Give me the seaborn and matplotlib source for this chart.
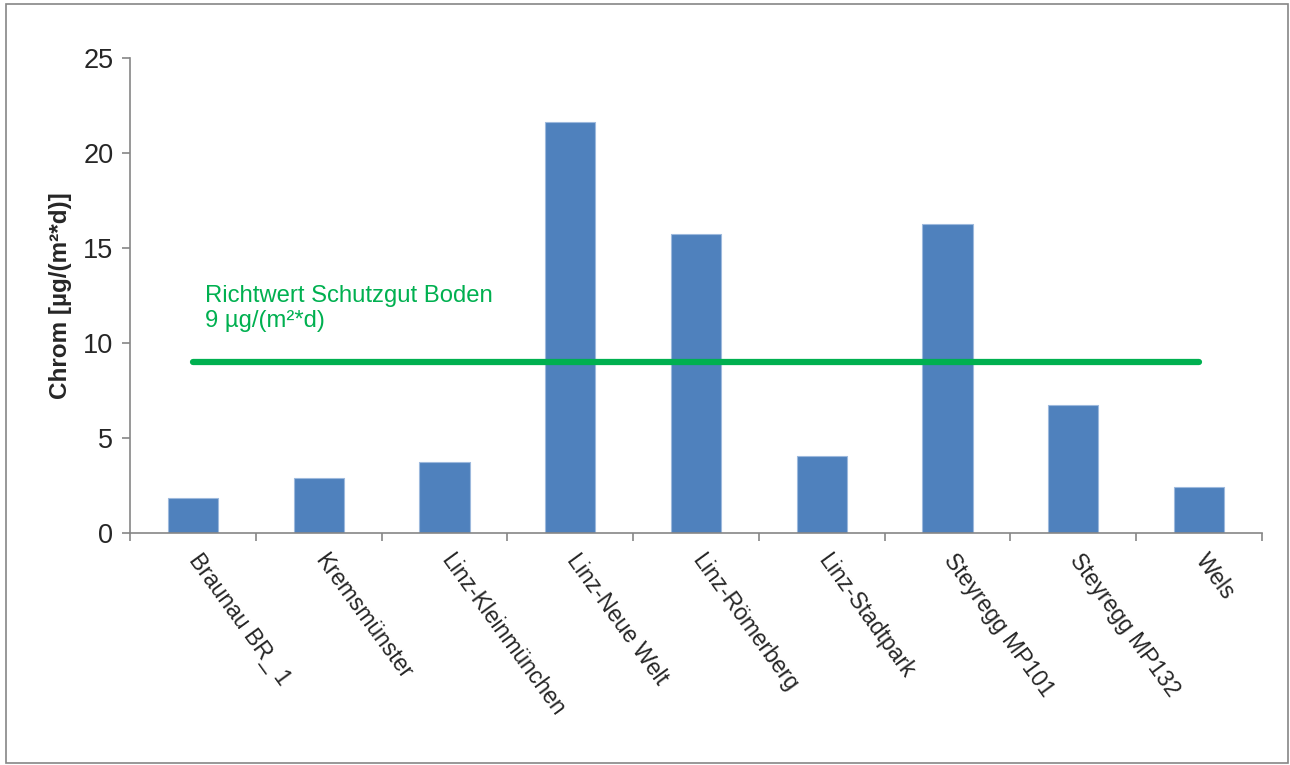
import matplotlib
matplotlib.use("Agg")
import numpy as np
import pandas as pd
import matplotlib.pyplot as plt
import seaborn as sns
from matplotlib.patches import Rectangle
from matplotlib.transforms import ScaledTranslation

# data
stations = ["Braunau BR_ 1", "Kremsmünster", "Linz-Kleinmünchen", "Linz-Neue Welt",
            "Linz-Römerberg", "Linz-Stadtpark", "Steyregg MP101", "Steyregg MP132", "Wels"]
chrom = [1.85, 2.9, 3.72, 21.62, 15.73, 4.03, 16.24, 6.72, 2.43]
richtwert = 9
richtwert_label = "Richtwert Schutzgut Boden\n9 µg/(m²*d)"
y_ticks = [0, 5, 10, 15, 20, 25]

sns.set_style("white")
plt.rcParams["font.family"] = ["Liberation Sans", "DejaVu Sans"]

df = pd.DataFrame({"station": stations, "chrom": chrom})

fig = plt.figure(figsize=(12.9, 7.65), dpi=100)
ax = fig.add_axes([0.1008, 0.3033, 0.8775, 0.6209])

sns.barplot(data=df, x="station", y="chrom", color="#4F81BD", width=0.4,
            saturation=1, edgecolor="#9DB9DD", linewidth=0.8, ax=ax)

# guideline value across all stations
ax.plot([0, len(stations) - 1], [richtwert, richtwert], color="#00B050",
        linewidth=4.5, solid_capstyle="round", zorder=3)
ax.text(0.095, 13.05, richtwert_label, color="#00B050", fontsize=17.2,
        ha="left", va="top", linespacing=1.2)

ax.set_xlim(-0.5, len(stations) - 0.5)
ax.set_ylim(0, 25)
ax.set_yticks(y_ticks)
ax.set_yticklabels([str(t) for t in y_ticks], fontsize=19.5)
ax.set_xticks(range(len(stations)))
ax.set_xticklabels(stations, rotation=-54, ha="left", rotation_mode="anchor", fontsize=16.5)
ax.set_xticks(np.arange(-0.5, len(stations)), minor=True)
ax.tick_params(axis="x", which="major", bottom=False, length=0, pad=12)
ax.tick_params(axis="x", which="minor", bottom=True, length=6, width=1.2, color="#868686", direction="out")
ax.tick_params(axis="y", left=True, length=6, width=1.2, color="#868686", direction="out", pad=6)
shift = ScaledTranslation(10 / 100, 0, fig.dpi_scale_trans)
for lab in ax.get_xticklabels():
    lab.set_transform(lab.get_transform() + shift)
ax.set_xlabel("")
ax.set_ylabel("Chrom [µg/(m²*d)]", fontsize=17.5, fontweight="bold", labelpad=8)

for side in ["top", "right"]:
    ax.spines[side].set_visible(False)
for side in ["left", "bottom"]:
    ax.spines[side].set_color("#868686")
    ax.spines[side].set_linewidth(1.2)

# outer chart frame
fig.patches.append(Rectangle((6 / 1290, 0.002), 1282 / 1290, 1 - 6 / 765, transform=fig.transFigure,
                             fill=False, edgecolor="#868686", linewidth=1.2))

fig.savefig("out.png", dpi=100)
